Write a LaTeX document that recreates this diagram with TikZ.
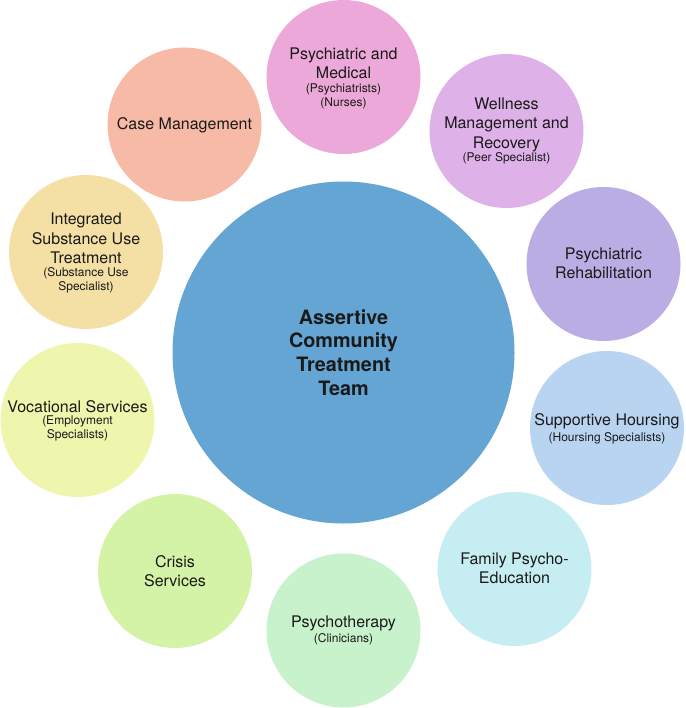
\documentclass[tikz,border=0pt]{standalone}
\usepackage{fontspec}
\setmainfont{TeX Gyre Heros}
\definecolor{txt}{HTML}{1A1A1A}
\definecolor{cCenter}{HTML}{64A5D4}
\definecolor{cMed}{HTML}{ECA8D9}
\definecolor{cWell}{HTML}{DFB1E9}
\definecolor{cRehab}{HTML}{BAADE4}
\definecolor{cHouse}{HTML}{B8D4F0}
\definecolor{cFamily}{HTML}{C6EEF2}
\definecolor{cPsyTh}{HTML}{C7F2CC}
\definecolor{cCrisis}{HTML}{D5F3A6}
\definecolor{cVoc}{HTML}{EEF5AD}
\definecolor{cSubst}{HTML}{F4DFA5}
\definecolor{cCase}{HTML}{F7BAA7}
\begin{document}
\begin{tikzpicture}[x=1pt,y=-1pt,
  bub/.style={circle, minimum size=154pt, inner sep=0pt},
  mainlbl/.style={align=center, font=\fontsize{16}{19.5}\selectfont, text=txt, inner sep=0pt},
  sublbl/.style={align=center, font=\fontsize{12}{14}\selectfont, text=txt, inner sep=0pt},
  ctrlbl/.style={align=center, font=\fontsize{19.8}{23.7}\selectfont\bfseries, text=txt, inner sep=0pt}]
\useasboundingbox (0,0) rectangle (685,708);
% central circle
\node[circle, minimum size=342pt, inner sep=0pt, fill=cCenter] (ctr) at (343.5,352.5) {};
\node[ctrlbl] (ctrT) at (343.5,352.5) {Assertive\\Community\\Treatment\\Team};
% Psychiatric and Medical
\node[bub, fill=cMed] (med) at (343.5,77) {};
\node[mainlbl] (medT) at (343.5,63.5) {Psychiatric and\\Medical};
\node[sublbl] (medS) at (343.5,96) {(Psychiatrists)\\(Nurses)};
% Wellness
\node[bub, fill=cWell] (well) at (506.5,131) {};
\node[mainlbl] (wellT) at (506.5,124.5) {Wellness\\Management and\\Recovery};
\node[sublbl] (wellS) at (506.5,158) {(Peer Specialist)};
% Psychiatric Rehabilitation
\node[bub, fill=cRehab] (rehab) at (603.5,264) {};
\node[mainlbl] (rehabT) at (603.5,263.5) {Psychiatric\\Rehabilitation};
% Supportive Housing
\node[bub, fill=cHouse] (house) at (607,428) {};
\node[mainlbl] (houseT) at (607,421.5) {Supportive Hoursing};
\node[sublbl] (houseS) at (607,438) {(Hoursing Specialists)};
% Family Psycho-Education
\node[bub, fill=cFamily] (fam) at (514.5,569) {};
\node[mainlbl] (famT) at (514.5,568.5) {Family Psycho-\\Education};
% Psychotherapy
\node[bub, fill=cPsyTh] (psyth) at (343.5,630.5) {};
\node[mainlbl] (psythT) at (343.5,623.5) {Psychotherapy};
\node[sublbl] (psythS) at (343.5,639) {(Clinicians)};
% Crisis Services
\node[bub, fill=cCrisis] (crisis) at (175,571) {};
\node[mainlbl] (crisisT) at (175,571) {Crisis\\Services};
% Vocational Services
\node[bub, fill=cVoc] (voc) at (77.5,420) {};
\node[mainlbl] (vocT) at (77.5,406.5) {Vocational Services};
\node[sublbl] (vocS) at (77.5,428.5) {(Employment\\Specialists)};
% Integrated Substance Use Treatment
\node[bub, fill=cSubst] (subst) at (86,252) {};
\node[mainlbl] (substT) at (86,238.5) {Integrated\\Substance Use\\Treatment};
\node[sublbl] (substS) at (86,280) {(Substance Use\\Specialist)};
% Case Management
\node[bub, fill=cCase] (case) at (184.5,124.5) {};
\node[mainlbl] (caseT) at (184.5,125.5) {Case Management};
\end{tikzpicture}
\end{document}
